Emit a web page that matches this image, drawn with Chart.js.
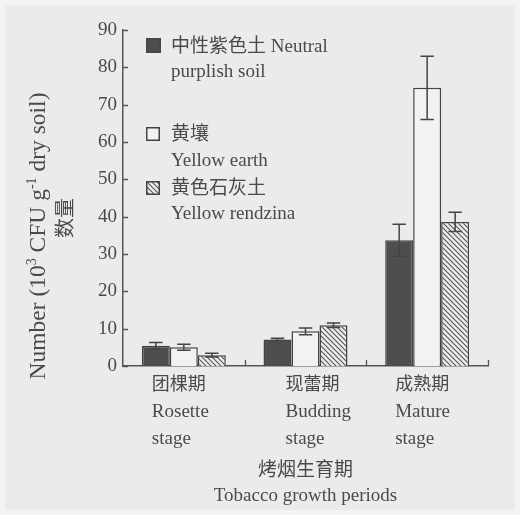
<!DOCTYPE html>
<html>
<head>
<meta charset="utf-8">
<script src="https://cdn.jsdelivr.net/npm/chart.js@4/dist/chart.umd.min.js"></script>
<style>
  html, body { margin: 0; padding: 0; background: #ebebeb; }
  canvas { display: block; }
</style>
</head>
<body>
<canvas id="chart" width="520" height="515"></canvas>
<script>
// Growth stages (Chinese name, English name split over two lines)
const stageLabels = [
  ['团棵期', 'Rosette', 'stage'],
  ['现蕾期', 'Budding', 'stage'],
  ['成熟期', 'Mature', 'stage']
];

// Soil types shown in the key
const soilNames = [
  ['中性紫色土 Neutral', 'purplish soil'],
  ['黄壤', 'Yellow earth'],
  ['黄色石灰土', 'Yellow rendzina']
];

// Counts (10^3 CFU per g dry soil) and their error ranges
const neutralPurplish    = [5.4, 7.1, 33.7];
const neutralPurplishErr = [0.9, 0.3, 4.3];
const yellowEarth        = [5.0, 9.3, 74.5];
const yellowEarthErr     = [0.8, 0.9, 8.5];
const yellowRendzina     = [2.9, 10.9, 38.6];
const yellowRendzinaErr  = [0.5, 0.6, 2.6];

// Value axis
const yTickValues = [0, 10, 20, 30, 40, 50, 60, 70, 80, 90];

const yTitleParts = [
  { t: 'Number (10' }, { t: '3', sup: true }, { t: ' CFU g' },
  { t: '-1', sup: true }, { t: ' dry soil)' }
];
const yTitleZh = '数量';
const xTitle = ['烤烟生育期', 'Tobacco growth periods'];

const INK = '#4a4a4a';
const DARK = '#4e4e4e';
const LATIN = '"Liberation Serif", serif';
const CJK = '"Noto Sans CJK SC", sans-serif';
const CJK_RE = /[\u3000-\u9fff\uff00-\uffef]/;

// Diagonal hatching fill
function makeHatch() {
  const s = 5;
  const c = document.createElement('canvas');
  c.width = s; c.height = s;
  const g = c.getContext('2d');
  g.fillStyle = '#ededed';
  g.fillRect(0, 0, s, s);
  g.strokeStyle = '#555';
  g.lineWidth = 1.1;
  g.beginPath();
  g.moveTo(-1, -1); g.lineTo(s + 1, s + 1);
  g.moveTo(-1, s - 1); g.lineTo(1, s + 1);
  g.moveTo(s - 1, -1); g.lineTo(s + 1, 1);
  g.stroke();
  return g.createPattern(c, 'repeat');
}
const ctx0 = document.getElementById('chart').getContext('2d');
const hatch = makeHatch();

// Split a string into CJK / Latin runs and draw each in its own face
function runs(text) {
  const out = [];
  for (const ch of text) {
    const cjk = CJK_RE.test(ch);
    if (out.length && out[out.length - 1].cjk === cjk) out[out.length - 1].s += ch;
    else out.push({ s: ch, cjk });
  }
  return out;
}
function fontFor(cjk, size, cjkSize) {
  return cjk ? `${cjkSize}px ${CJK}` : `${size}px ${LATIN}`;
}
function mixedWidth(ctx, text, size, cjkSize) {
  let w = 0;
  for (const r of runs(text)) { ctx.font = fontFor(r.cjk, size, cjkSize); w += ctx.measureText(r.s).width; }
  return w;
}
function drawMixed(ctx, text, x, y, size, cjkSize, align) {
  let w = mixedWidth(ctx, text, size, cjkSize);
  let cx = align === 'center' ? x - w / 2 : x;
  ctx.textAlign = 'left';
  ctx.textBaseline = 'alphabetic';
  for (const r of runs(text)) {
    ctx.font = fontFor(r.cjk, size, cjkSize);
    ctx.fillText(r.s, cx, y);
    cx += ctx.measureText(r.s).width;
  }
}

const backdrop = {
  id: 'backdrop',
  beforeDraw(chart) {
    const c = chart.ctx;
    c.save();
    c.fillStyle = '#f3f3f3';
    c.fillRect(0, 0, chart.width, chart.height);
    c.fillStyle = '#ebebeb';
    c.fillRect(5, 5, chart.width - 10, chart.height - 10);
    c.restore();
  }
};

const errorBars = {
  id: 'errorBars',
  afterDatasetsDraw(chart) {
    const c = chart.ctx;
    const y = chart.scales.y;
    c.save();
    c.strokeStyle = '#444';
    c.lineWidth = 1.5;
    chart.data.datasets.forEach((ds, i) => {
      const meta = chart.getDatasetMeta(i);
      meta.data.forEach((bar, j) => {
        const v = ds.data[j], e = ds.errors[j];
        const top = y.getPixelForValue(v + e);
        const bot = y.getPixelForValue(v - e);
        const half = bar.width * 0.24;
        c.beginPath();
        c.moveTo(bar.x, top); c.lineTo(bar.x, bot);
        c.moveTo(bar.x - half, top); c.lineTo(bar.x + half, top);
        c.moveTo(bar.x - half, bot); c.lineTo(bar.x + half, bot);
        c.stroke();
      });
    });
    c.restore();
  }
};

const annotations = {
  id: 'annotations',
  afterDraw(chart) {
    const c = chart.ctx;
    const { left, right, top, bottom } = chart.chartArea;
    const x = chart.scales.x, y = chart.scales.y;
    c.save();
    c.strokeStyle = '#555';
    c.lineWidth = 1.3;

    // inward tick marks on the value axis
    c.beginPath();
    yTickValues.forEach(v => {
      const py = Math.round(y.getPixelForValue(v)) + 0.5;
      c.moveTo(left, py); c.lineTo(left + 5, py);
    });
    // tick marks between stages on the category axis
    const step = x.getPixelForValue(1) - x.getPixelForValue(0);
    stageLabels.forEach((_, i) => {
      const px = Math.round(x.getPixelForValue(i) + step / 2) + 0.5;
      c.moveTo(px, bottom); c.lineTo(px, bottom - 6);
    });
    c.stroke();

    c.fillStyle = INK;
    // stage labels, left aligned under each group
    const shift = [-32, -20, -32];
    stageLabels.forEach((lines, i) => {
      const lx = x.getPixelForValue(i) + shift[i];
      lines.forEach((ln, k) => drawMixed(c, ln, lx, bottom + 24 + k * 27, 19, 18));
    });

    // category axis title
    const cx = (left + right) / 2;
    drawMixed(c, xTitle[0], cx, bottom + 110, 19, 19, 'center');
    drawMixed(c, xTitle[1], cx, bottom + 135, 19, 19, 'center');

    // value axis title, rotated
    c.save();
    c.translate(45, 236);
    c.rotate(-Math.PI / 2);
    const fs = 23.5, ss = 14;
    let tw = 0;
    yTitleParts.forEach(p => { c.font = `${p.sup ? ss : fs}px ${LATIN}`; tw += c.measureText(p.t).width; });
    let tx = -tw / 2;
    c.textAlign = 'left';
    c.textBaseline = 'alphabetic';
    yTitleParts.forEach(p => {
      c.font = `${p.sup ? ss : fs}px ${LATIN}`;
      c.fillText(p.t, tx, p.sup ? -9 : 0);
      tx += c.measureText(p.t).width;
    });
    c.restore();
    c.save();
    c.translate(72, 218);
    c.rotate(-Math.PI / 2);
    c.font = `20px ${CJK}`;
    c.textAlign = 'center';
    c.textBaseline = 'alphabetic';
    c.fillText(yTitleZh, 0, 0);
    c.restore();

    // key
    const sx = left + 23;
    const items = [
      { top: 38, size: 15, lines: [52, 77] },
      { top: 127, size: 14, lines: [140, 166] },
      { top: 181, size: 14, lines: [194, 219] }
    ];
    const fills = [DARK, '#f2f2f2', hatch];
    items.forEach((it, i) => {
      c.fillStyle = fills[i];
      c.fillRect(sx, it.top, it.size, it.size);
      c.strokeStyle = '#444';
      c.lineWidth = 1.5;
      c.strokeRect(sx + 0.75, it.top + 0.75, it.size - 1.5, it.size - 1.5);
      c.fillStyle = INK;
      soilNames[i].forEach((ln, k) => drawMixed(c, ln, sx + 25, it.lines[k], 19, 19));
    });
    c.restore();
  }
};

new Chart(ctx0, {
  type: 'bar',
  data: {
    labels: stageLabels.map(l => l.join(' ')),
    datasets: [
      { label: soilNames[0].join(' '), data: neutralPurplish, errors: neutralPurplishErr,
        backgroundColor: DARK, borderColor: '#444', borderWidth: 1.5 },
      { label: soilNames[1].join(' '), data: yellowEarth, errors: yellowEarthErr,
        backgroundColor: '#f2f2f2', borderColor: '#444', borderWidth: 1.5 },
      { label: soilNames[2].join(' '), data: yellowRendzina, errors: yellowRendzinaErr,
        backgroundColor: hatch, borderColor: '#444', borderWidth: 1.5 }
    ]
  },
  options: {
    responsive: false,
    animation: false,
    devicePixelRatio: 1,
    layout: { padding: { top: 30, right: 32, left: 0, bottom: 0 } },
    datasets: { bar: { categoryPercentage: 0.69, barPercentage: 1, borderSkipped: 'bottom' } },
    plugins: { legend: { display: false }, tooltip: { enabled: false } },
    scales: {
      x: {
        grid: { display: false, drawTicks: false },
        border: { display: true, color: '#555', width: 1.5 },
        ticks: { display: false },
        afterFit(scale) { scale.height = 149; }
      },
      y: {
        min: 0, max: 90,
        afterBuildTicks(scale) { scale.ticks = yTickValues.map(v => ({ value: v })); },
        grid: { display: false, drawTicks: false },
        border: { display: true, color: '#555', width: 1.5 },
        ticks: { color: INK, padding: 6, font: { family: 'Liberation Serif', size: 19 } },
        afterFit(scale) { scale.width = 123; }
      }
    }
  },
  plugins: [backdrop, errorBars, annotations]
});
</script>
</body>
</html>
